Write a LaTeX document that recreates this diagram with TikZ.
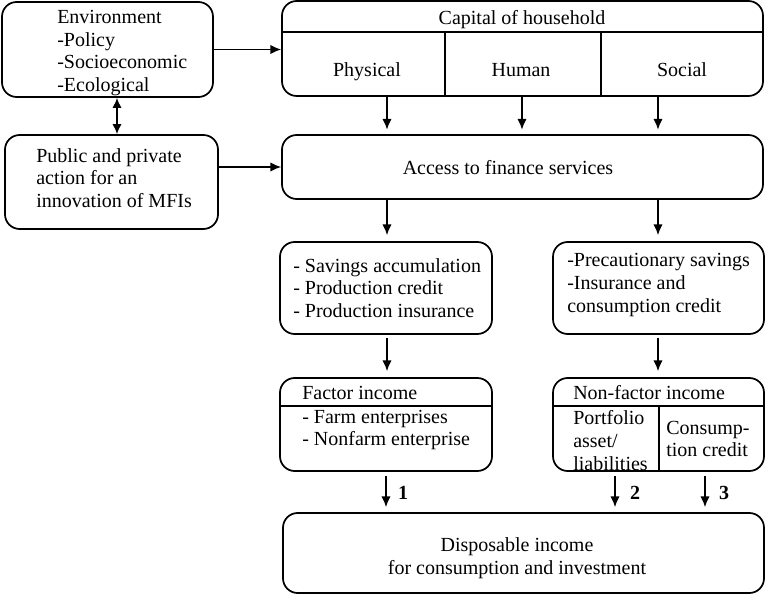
\documentclass[tikz,border=0pt]{standalone}
\usepackage{fontspec}
\setmainfont{Liberation Serif}
\usetikzlibrary{arrows.meta}

\begin{document}
\begin{tikzpicture}[x=0.75pt, y=-0.75pt,
  font=\fontsize{15}{17}\selectfont,
  box/.style={draw, line width=1.3pt, rounded corners=11pt, inner sep=0pt},
  txt/.style={inner sep=0pt, align=left},
  sep/.style={line width=1.3pt},
  arr/.style={line width=1.2pt, -{Latex[length=8pt,width=7pt]}},
  arrtwo/.style={line width=1.2pt, {Latex[length=7.5pt,width=7pt]}-{Latex[length=7.5pt,width=7pt]}},
  num/.style={inner sep=0pt, font=\fontsize{15}{17}\selectfont\bfseries}]
\useasboundingbox (0,0) rectangle (765,595);

% boxes
\node[box, minimum width=211*0.75pt, minimum height=95*0.75pt] (env) at (107.5,49.5) {};
\node[box, minimum width=213*0.75pt, minimum height=94*0.75pt] (pub) at (111.5,182) {};
\node[box, minimum width=481*0.75pt, minimum height=95*0.75pt] (cap) at (522.5,48.5) {};
\node[box, minimum width=481*0.75pt, minimum height=64*0.75pt] (acc) at (522.5,167) {};
\node[box, minimum width=212*0.75pt, minimum height=92*0.75pt] (sav) at (386,288) {};
\node[box, minimum width=211*0.75pt, minimum height=92*0.75pt] (pre) at (658.5,288) {};
\node[box, minimum width=212*0.75pt, minimum height=93*0.75pt] (fac) at (386,424.5) {};
\node[box, minimum width=211*0.75pt, minimum height=93*0.75pt] (non) at (658.5,424.5) {};
\node[box, minimum width=481*0.75pt, minimum height=80*0.75pt] (dis) at (523.5,553) {};

% dividers inside the split boxes
\coordinate (caph) at (0,32);
\draw[sep] (cap.west |- caph) -- (cap.east |- caph);
\draw[sep] (445,32) -- (445,0 |- cap.south);
\draw[sep] (601,32) -- (601,0 |- cap.south);
\coordinate (fach) at (0,406);
\draw[sep] (fac.west |- fach) -- (fac.east |- fach);
\draw[sep] (non.west |- fach) -- (non.east |- fach);
\draw[sep] (659,406) -- (659,0 |- non.south);

% texts
\node[txt, anchor=west] (envt) at (57,53) {Environment\\-Policy\\-Socioeconomic\\-Ecological};
\node[txt, anchor=west] (pubt) at (36,178) {Public and private\\action for an\\innovation of MFIs};
\node[txt, anchor=base] (capt) at (522,25) {Capital of household};
\node[txt, anchor=base] (phy) at (367,77) {Physical};
\node[txt, anchor=base] (hum) at (521,77) {Human};
\node[txt, anchor=base] (soc) at (682,77) {Social};
\node[txt, anchor=base] (acct) at (508,174.5) {Access to finance services};
\node[txt, anchor=west] (savt) at (293,288) {- Savings accumulation\\- Production credit\\- Production insurance};
\node[txt, anchor=west] (pret) at (567,285) {-Precautionary savings\\-Insurance and\\consumption credit};
\node[txt, anchor=base west] (fact) at (302,400) {Factor income};
\node[txt, anchor=west] (facl) at (302,430) {- Farm enterprises\\- Nonfarm enterprise};
\node[txt, anchor=base west] (nont) at (573,400) {Non-factor income};
\node[txt, anchor=west] (port) at (573,440.5) {Portfolio\\asset/\\liabilities};
\node[txt, anchor=west] (cons) at (666,439) {Consump-\\tion credit};
\node[txt, align=center] (dist) at (517,558) {Disposable income\\for consumption and investment};

% connectors
\draw[arr] (env.east) -- (env.east -| cap.west);
\draw[arr] (pub.east |- acc.west) -- (acc.west);
\draw[arrtwo] (env.south -| 117,0) -- (pub.north -| 117,0);
\foreach \xx in {387,522,658}
  \draw[arr, shorten >=4.5*0.75pt] (cap.south -| \xx,0) -- (acc.north -| \xx,0);
\draw[arr, shorten >=6*0.75pt] (acc.south -| 387,0) -- (sav.north -| 387,0);
\draw[arr, shorten >=6*0.75pt] (acc.south -| 658,0) -- (pre.north -| 658,0);
\draw[arr, shorten <=3*0.75pt, shorten >=6*0.75pt] (sav.south -| 387,0) -- (fac.north -| 387,0);
\draw[arr, shorten <=3*0.75pt, shorten >=6*0.75pt] (pre.south -| 658,0) -- (non.north -| 658,0);
\draw[arr, shorten <=4*0.75pt, shorten >=5*0.75pt] (fac.south -| 386,0) -- (dis.north -| 386,0);
\draw[arr, shorten <=4*0.75pt, shorten >=5*0.75pt] (non.south -| 615,0) -- (dis.north -| 615,0);
\draw[arr, shorten <=4*0.75pt, shorten >=5*0.75pt] (non.south -| 705,0) -- (dis.north -| 705,0);

% path numbers
\node[num] (n1) at (403,493) {1};
\node[num] (n2) at (635,493) {2};
\node[num] (n3) at (724,493) {3};
\end{tikzpicture}
\end{document}
